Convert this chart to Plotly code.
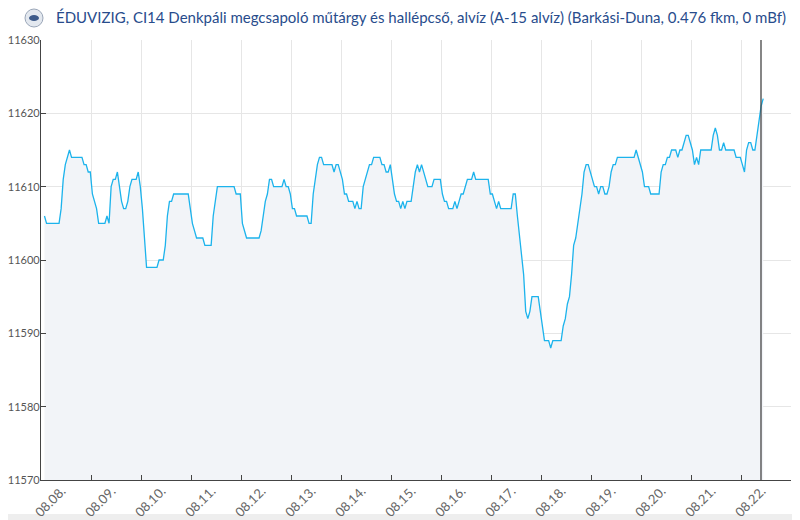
# ================================================= Libraries =========================================================


import pandas as pd
import plotly.graph_objects as go


# ================================================= Data ==============================================================


# Hourly water levels (cm), one list per day, first reading at 01:40 on 08.08.
day_0808 = [11606, 11605, 11605, 11605, 11605, 11605, 11605, 11605, 11607, 11611, 11613, 11614,
            11615, 11614, 11614, 11614, 11614, 11614, 11614, 11613, 11613, 11612]
day_0809 = [11612, 11609, 11608, 11607, 11605, 11605, 11605, 11605, 11606, 11605, 11610, 11611,
            11611, 11612, 11610, 11608, 11607, 11607, 11608, 11610, 11611, 11611, 11611, 11612]
day_0810 = [11610, 11607, 11603, 11599, 11599, 11599, 11599, 11599, 11599, 11600, 11600, 11600,
            11602, 11606, 11608, 11608, 11609, 11609, 11609, 11609, 11609, 11609, 11609, 11609]
day_0811 = [11607, 11605, 11604, 11603, 11603, 11603, 11603, 11602, 11602, 11602, 11602, 11606,
            11608, 11610, 11610, 11610, 11610, 11610, 11610, 11610, 11610, 11610, 11609, 11609]
day_0812 = [11609, 11605, 11604, 11603, 11603, 11603, 11603, 11603, 11603, 11603, 11604, 11606,
            11608, 11609, 11611, 11611, 11610, 11610, 11610, 11610, 11610, 11611, 11610, 11610]
day_0813 = [11609, 11607, 11607, 11606, 11606, 11606, 11606, 11606, 11606, 11605, 11605, 11609,
            11611, 11613, 11614, 11614, 11613, 11613, 11613, 11613, 11613, 11612, 11613, 11613]
day_0814 = [11612, 11611, 11609, 11609, 11608, 11608, 11608, 11607, 11608, 11607, 11607, 11610,
            11611, 11612, 11613, 11613, 11614, 11614, 11614, 11614, 11613, 11613, 11612, 11612]
day_0815 = [11613, 11611, 11609, 11608, 11608, 11607, 11608, 11607, 11608, 11608, 11608, 11610,
            11612, 11613, 11612, 11613, 11612, 11611, 11610, 11610, 11610, 11611, 11611, 11611]
day_0816 = [11611, 11609, 11608, 11608, 11607, 11607, 11607, 11608, 11607, 11608, 11609, 11609,
            11610, 11611, 11611, 11611, 11612, 11611, 11611, 11611, 11611, 11611, 11611, 11611]
day_0817 = [11609, 11609, 11608, 11607, 11608, 11607, 11607, 11607, 11607, 11607, 11607, 11609,
            11609, 11606, 11603, 11600, 11598, 11593, 11592, 11593, 11595, 11595, 11595, 11595]
day_0818 = [11593, 11591, 11589, 11589, 11589, 11588, 11589, 11589, 11589, 11589, 11589, 11591,
            11592, 11594, 11595, 11598, 11602, 11603, 11605, 11607, 11609, 11612, 11613, 11613]
day_0819 = [11612, 11611, 11610, 11610, 11609, 11610, 11610, 11609, 11609, 11610, 11612, 11613,
            11613, 11614, 11614, 11614, 11614, 11614, 11614, 11614, 11614, 11614, 11615, 11614]
day_0820 = [11613, 11612, 11610, 11610, 11610, 11609, 11609, 11609, 11609, 11609, 11612, 11613,
            11613, 11614, 11614, 11615, 11615, 11615, 11614, 11615, 11615, 11616, 11617, 11617]
day_0821 = [11616, 11615, 11613, 11614, 11613, 11615, 11615, 11615, 11615, 11615, 11615, 11617,
            11618, 11617, 11615, 11615, 11616, 11615, 11615, 11615, 11615, 11615, 11614, 11614]
day_0822 = [11614, 11613, 11612, 11615, 11616, 11616, 11615, 11615, 11617, 11619, 11621, 11622]

day_labels = ['08.08.', '08.09.', '08.10.', '08.11.', '08.12.', '08.13.', '08.14.', '08.15.',
              '08.16.', '08.17.', '08.18.', '08.19.', '08.20.', '08.21.', '08.22.']

first_reading = '2024-08-08 01:40'
now_time = '2024-08-22 09:36'
y_ticks = [11570, 11580, 11590, 11600, 11610, 11620, 11630]

title = ('ÉDUVIZIG, CI14 Denkpáli megcsapoló műtárgy és hallépcső, alvíz (A-15 alvíz) '
         '(Barkási-Duna, 0.476 fkm, 0 mBf)')


# ================================================= Chart =============================================================


levels = (day_0808 + day_0809 + day_0810 + day_0811 + day_0812 + day_0813 + day_0814 + day_0815 +
          day_0816 + day_0817 + day_0818 + day_0819 + day_0820 + day_0821 + day_0822)
times = pd.date_range(first_reading, periods=len(levels), freq='h')

days = pd.date_range('2024-08-08', periods=len(day_labels) + 1, freq='D')
x_range = [days[0], days[-1]]
label_pos = days[:-1] + pd.Timedelta(hours=10)

fig = go.Figure()
fig.add_trace(go.Scatter(x=times, y=levels, mode='lines',
                         line=dict(color='#1cb3ec', width=1.3),
                         fill='tozeroy', fillcolor='#f2f4f8',
                         hoverinfo='x+y', showlegend=False))

# Layout (the page body adds an 8px offset, so the margins are shifted by it).
fig.update_layout(width=800, height=520,
                  margin=dict(l=33, r=17, t=32, b=48, autoexpand=False),
                  paper_bgcolor='#ffffff', plot_bgcolor='#ffffff',
                  font=dict(family='Lato, Open Sans, sans-serif', color='#555555'),
                  title=dict(text=title, x=48 / 800, xanchor='left', xref='container',
                             y=1 - 10 / 520, yanchor='middle', yref='container',
                             font=dict(family='Lato', size=15, color='#284c8c')),
                  showlegend=False)

fig.update_xaxes(type='date', range=x_range, tickvals=days, showticklabels=False,
                 ticks='inside', ticklen=5, tickcolor='#444444', automargin=False,
                 showgrid=True, gridcolor='#e6e6e6', gridwidth=1,
                 showline=True, linecolor='#444444', linewidth=1.3, zeroline=False)

fig.update_yaxes(range=[y_ticks[0], y_ticks[-1]], tickvals=y_ticks, tickformat='d',
                 ticks='inside', ticklen=5, tickcolor='#444444', automargin=False,
                 tickfont=dict(size=11, color='#555555'), ticklabelstandoff=-2,
                 showgrid=True, gridcolor='#e6e6e6', gridwidth=1,
                 showline=True, linecolor='#444444', linewidth=1.3, zeroline=False)

# Rotated day labels on an overlaid axis.
fig.update_layout(xaxis2=dict(type='date', overlaying='x', side='bottom', anchor='y', range=x_range,
                              tickvals=label_pos, ticktext=day_labels, tickangle=-45,
                              ticks='', showgrid=False, showline=False, zeroline=False,
                              automargin=False, ticklabelstandoff=0,
                              tickfont=dict(size=13, color='#666666')))
fig.add_trace(go.Scatter(x=x_range, y=[None, None], xaxis='x2', yaxis='y',
                         mode='lines', hoverinfo='skip', showlegend=False))

# Grey frame at the right and bottom edges, and the logo.
fig.add_shape(type='rect', xref='paper', yref='paper', layer='below',
              x0=(792 - 41) / 750, x1=1.05, y0=-0.2, y1=1.2,
              fillcolor='#eeeeee', line=dict(width=0))
fig.add_shape(type='rect', xref='paper', yref='paper', layer='below',
              x0=-0.1, x1=1.05, y0=-0.2, y1=(480 - 514) / 440,
              fillcolor='#eeeeee', line=dict(width=0))
fig.add_shape(type='circle', xref='paper', yref='paper',
              x0=(25 - 41) / 750, x1=(43 - 41) / 750, y0=(480 - 27) / 440, y1=(480 - 9) / 440,
              fillcolor='#e3e8ef', line=dict(color='#9aa6b8', width=1))
fig.add_shape(type='circle', xref='paper', yref='paper',
              x0=(29 - 41) / 750, x1=(39 - 41) / 750, y0=(480 - 21) / 440, y1=(480 - 15) / 440,
              fillcolor='#3d5a8a', line=dict(width=0))

# Current time marker.
fig.add_shape(type='line', xref='x', yref='paper', x0=now_time, x1=now_time, y0=0, y1=1,
              line=dict(color='#444444', width=1.3))

fig.write_html('out.html')
